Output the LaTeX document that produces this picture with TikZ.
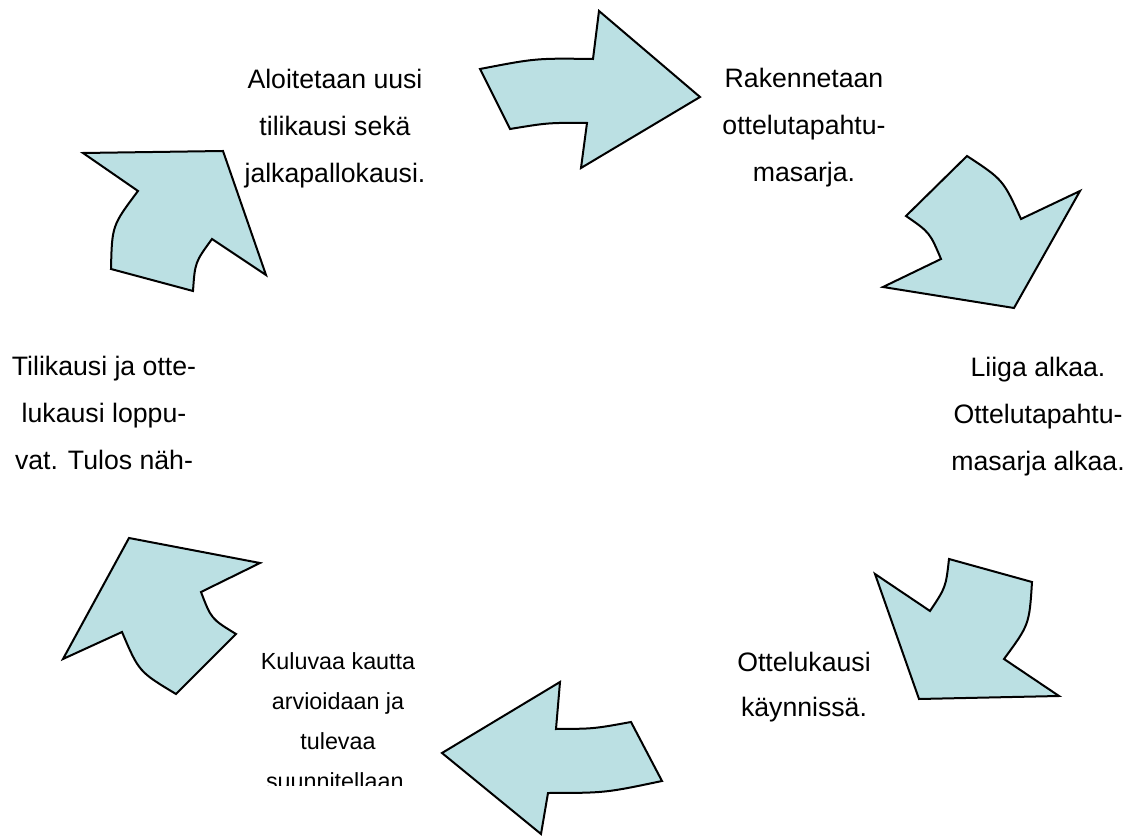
\documentclass[tikz,border=0pt]{standalone}
\usepackage{fontspec}
\setmainfont{Liberation Sans}
\usepackage{tikz}
\definecolor{CycleFill}{RGB}{187,224,227}

\tikzset{
  cyclearrow/.style={fill=CycleFill, draw=black, line width=1.5pt, line join=miter},
  phasetext/.style={font=\fontsize{20}{35.3}\selectfont, align=center, anchor=base, inner sep=0pt},
  smalltext/.style={font=\fontsize{17.5}{30}\selectfont, align=center, anchor=base, inner sep=0pt}
}

\begin{document}
\begin{tikzpicture}[x=0.75pt, y=-0.75pt]
  \useasboundingbox (0,0) rectangle (1128,837);

  % Arrow: top, pointing right
  \draw[cyclearrow] (480,69) .. controls (536.0,58.2) .. (593,59) -- (599,11) -- (700,97)
    -- (581,168) -- (587,123) .. controls (548.3,122.7) .. (510,129) -- cycle;
  % Arrow: upper right
  \draw[cyclearrow] (967,156) .. controls (1003.1,179.7) .. (1021,219) -- (1080,191)
    -- (1014,308) -- (883,287) -- (941,259) .. controls (929.7,232.4) .. (906,216) -- cycle;
  % Arrow: lower right
  \draw[cyclearrow] (949,559) -- (1032,582) .. controls (1029.3,624.6) .. (1004,659)
    -- (1059,696) -- (919,699) -- (875,574) -- (930,611) .. controls (945.8,587.3) .. cycle;
  % Arrow: bottom, pointing left
  \draw[cyclearrow] (560,682) -- (556,729) .. controls (593.7,728.8) .. (631,722) -- (662,781)
    .. controls (605.4,792.9) .. (548,793) -- (541,834) -- (442,753) -- cycle;
  % Arrow: lower left
  \draw[cyclearrow] (129,538) -- (260,563) -- (201,592) .. controls (211.3,618.9) .. (236,634)
    -- (176,694) .. controls (138.9,671.7) .. (122,632) -- (63,659) -- cycle;
  % Arrow: upper left
  \draw[cyclearrow] (83,153) -- (223,151) -- (266,275) -- (212,239) .. controls (195,262.3) .. (193,291)
    -- (111,269) .. controls (112,225.6) .. (138,191) -- cycle;

  % Phase texts (base = last line)
  \node[phasetext] (start) at (335,183) {Aloitetaan uusi\\tilikausi sekä\\jalkapallokausi.};
  \node[phasetext] (build) at (804,182) {Rakennetaan\\ottelutapahtu-\\masarja.};
  \node[phasetext] (league) at (1038,471) {Liiga alkaa.\\Ottelutapahtu-\\masarja alkaa.};
  \node[phasetext, font=\fontsize{20}{33.5}\selectfont] (season) at (804,716) {Ottelukausi\\käynnissä.};
  \node[phasetext] (close) at (104,470) {Tilikausi ja otte-\\lukausi loppu-\\vat. Tulos näh-};
  \begin{scope}
    \clip (230,630) rectangle (450,785);
    \node[smalltext] (review) at (338,789) {Kuluvaa kautta\\arvioidaan ja\\tulevaa\\suunnitellaan.};
  \end{scope}
\end{tikzpicture}
\end{document}
